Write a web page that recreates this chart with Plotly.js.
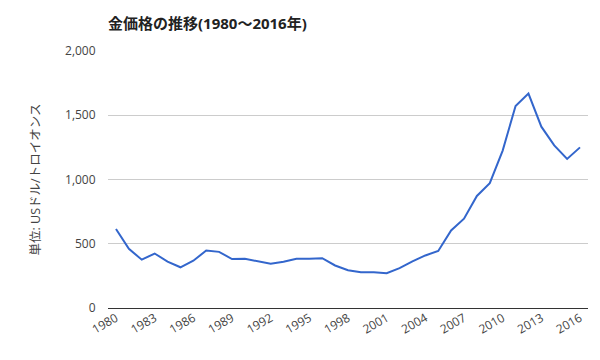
<!DOCTYPE html>
<html><head><meta charset="utf-8">
<script src="https://cdn.plot.ly/plotly-3.0.1.min.js"></script>
<style>body{margin:0;background:#fff}#chart{width:600px;height:360px}</style>
</head><body><div id="chart"></div>
<script>
const years = [1980,1981,1982,1983,1984,1985,1986,1987,1988,1989,1990,1991,1992,1993,1994,1995,1996,1997,1998,1999,2000,2001,2002,2003,2004,2005,2006,2007,2008,2009,2010,2011,2012,2013,2014,2015,2016];
const prices = [615,460,376,424,361,317,368,447,437,381,383,362,344,360,384,384,388,331,294,279,279,271,310,363,409,444,603,695,872,972,1225,1572,1669,1411,1266,1160,1250];
const tickYears = [1980,1983,1986,1989,1992,1995,1998,2001,2004,2007,2010,2013,2016];
const titleText = '金価格の推移(1980〜2016年)';
const yTitle = '単位: USドル/トロイオンス';
const font = '"Open Sans", "Noto Sans CJK JP", sans-serif';
Plotly.newPlot('chart', [{
  x: years, y: prices, type: 'scatter', mode: 'lines',
  line: {color: '#3366cc', width: 2}, hoverinfo: 'x+y'
}], {
  width: 600, height: 360,
  margin: {l: 108, r: 12, t: 51, b: 52},
  paper_bgcolor: '#fff', plot_bgcolor: '#fff',
  font: {family: font, size: 12, color: '#444'},
  title: {text: '<b>' + titleText + '</b>', x: 108/600, xanchor: 'left', y: 0.935, yanchor: 'middle', font: {size: 15, color: '#222', family: font}},
  xaxis: {range: [1979.38, 2016.62], tickvals: tickYears, ticktext: tickYears.map(String), tickangle: -30, showgrid: false, zeroline: false, showline: false, ticks: '', tickfont: {size: 12, color: '#444'}},
  yaxis: {range: [0, 2000], tickvals: [0,500,1000,1500,2000], tickformat: ',d', gridcolor: '#cccccc', zeroline: true, zerolinecolor: '#333', zerolinewidth: 1, ticks: 'outside', ticklen: 9, tickcolor: 'rgba(0,0,0,0)', tickfont: {size: 12, color: '#444'},
    title: {text: yTitle, font: {size: 12.5, color: '#444', family: font}, standoff: 21}},
  showlegend: false
}, {displayModeBar: false, staticPlot: true});
</script></body></html>
